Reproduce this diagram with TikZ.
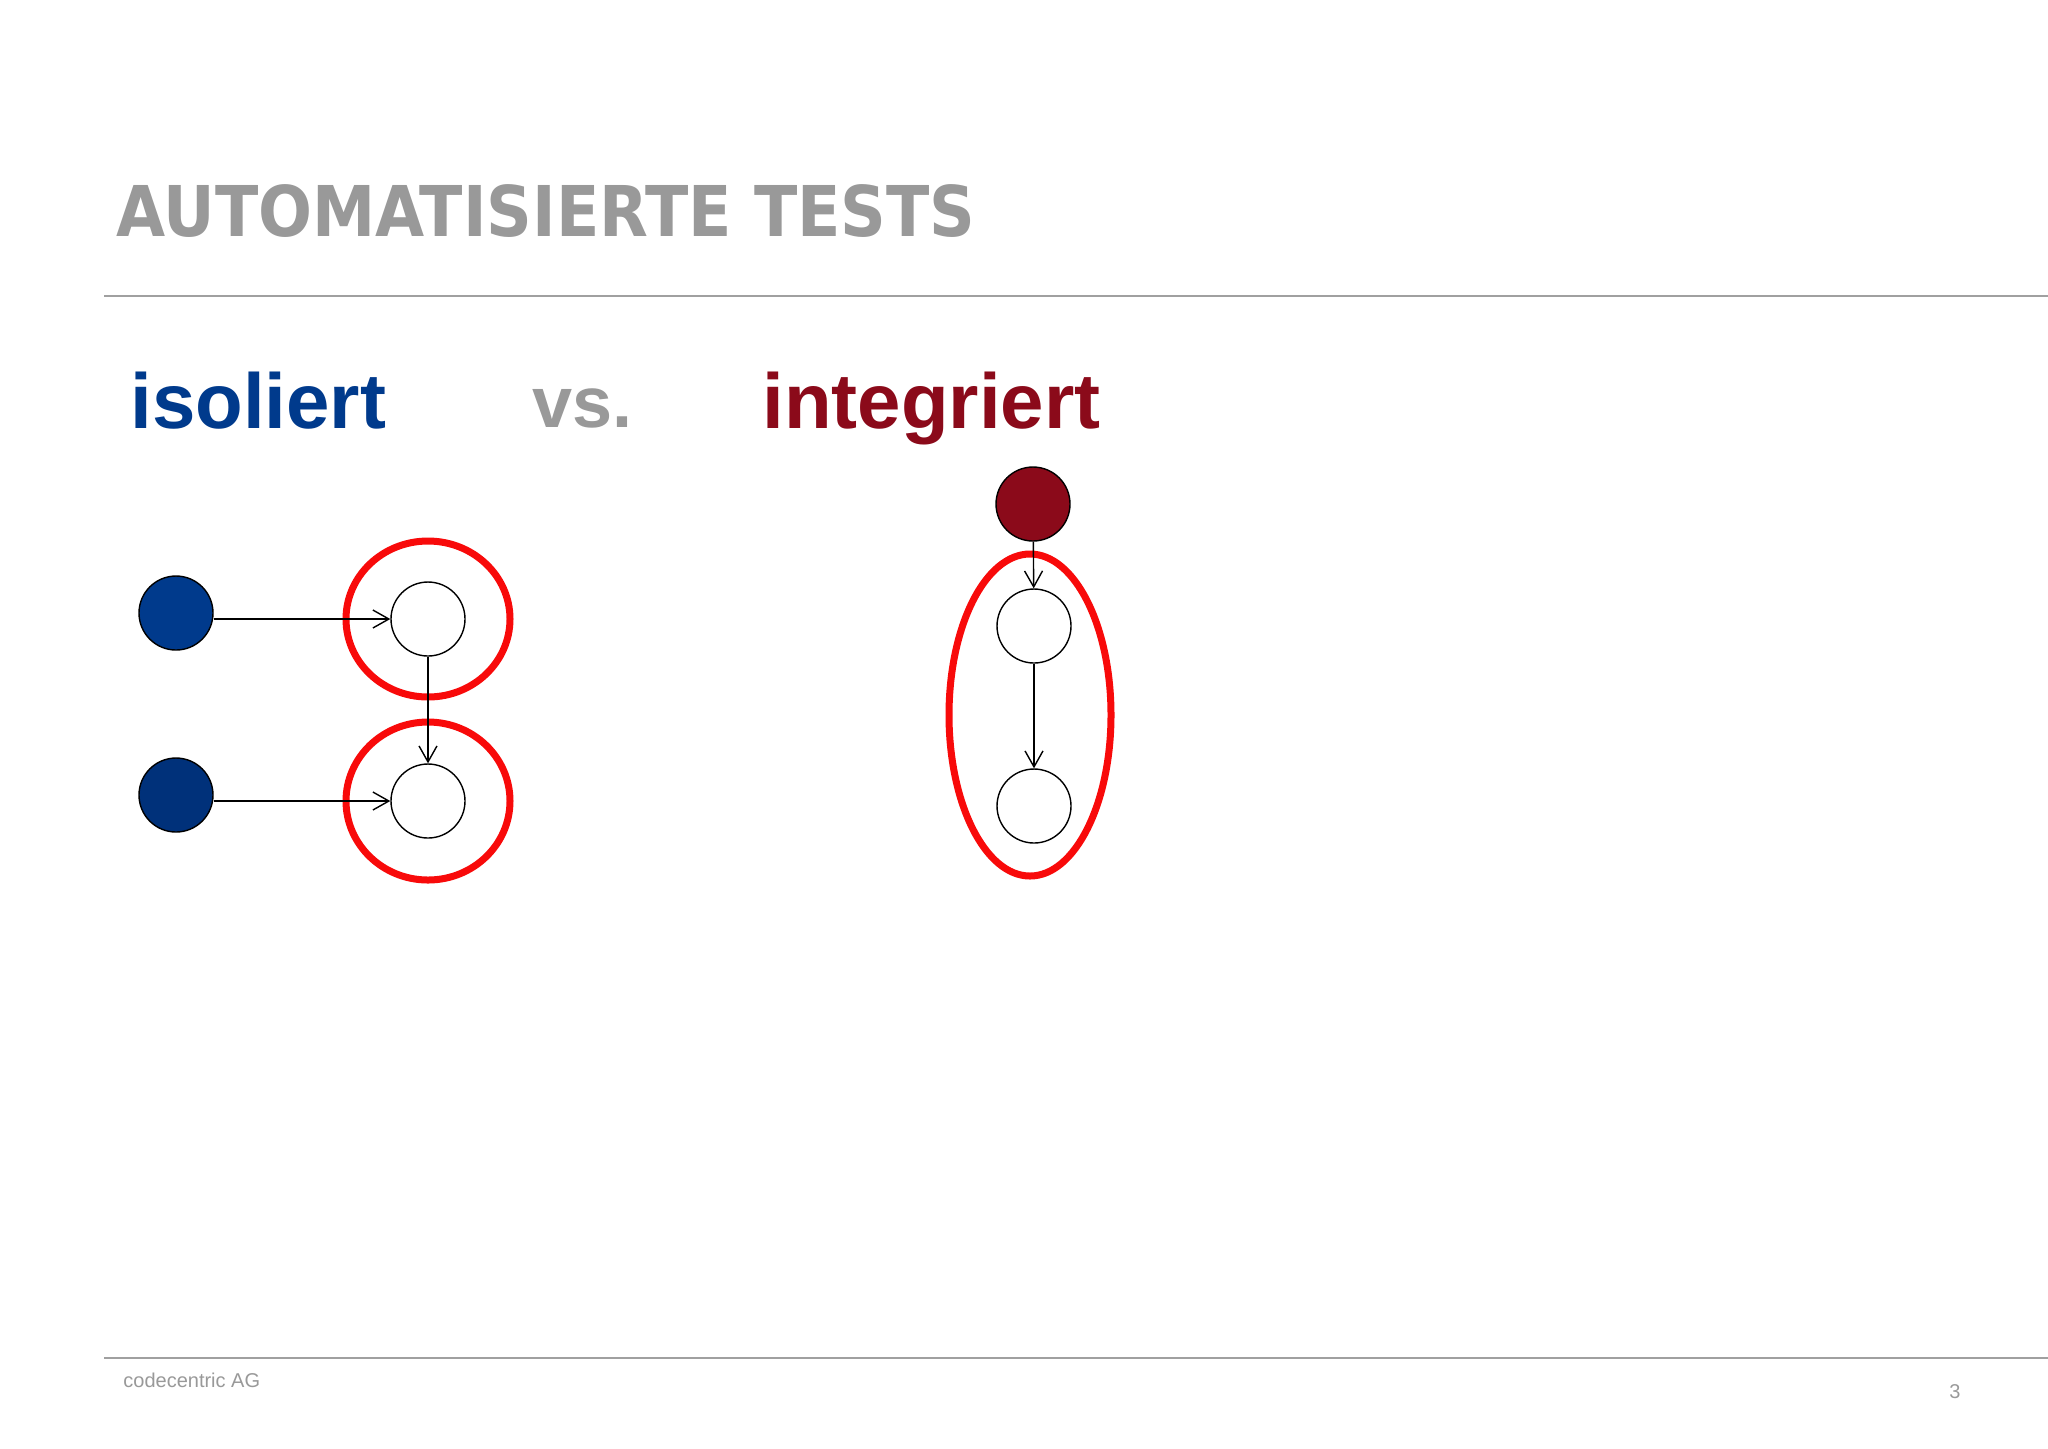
\documentclass[tikz,border=0pt]{standalone}
\usepackage{fontspec}
\setmainfont{Liberation Sans}
\newfontfamily\headfont{DejaVu Sans}
\usepackage{xcolor}
\usepackage{tikz}
\usetikzlibrary{arrows.meta}
\definecolor{headgray}{HTML}{999999}
\definecolor{rulegray}{HTML}{A0A0A0}
\definecolor{isoblue}{HTML}{003A8C}
\definecolor{isobluedark}{HTML}{00317A}
\definecolor{intred}{HTML}{8B0A1A}
\definecolor{ringred}{HTML}{F80A0A}

\begin{document}
\begin{tikzpicture}[x=0.5pt,y=-0.5pt,
				unit/.style={circle,draw=black,line width=0.7pt,minimum size=37pt,inner sep=0pt,fill=white},
				arr/.style={-{Straight Barb[length=8pt,width=9pt]},line width=0.7pt},
				ring/.style={draw=ringred,line width=3.5pt},
				word/.style={anchor=base west,inner sep=0pt,font=\fontsize{39}{41}\selectfont\bfseries}]
				\useasboundingbox[fill=white] (0,0) rectangle (2048,1448);
				\node[anchor=base west,inner sep=0pt,text=headgray] (title) at (116,236) {\scalebox{0.907}[1]{\headfont\fontsize{35}{38}\selectfont\bfseries AUTOMATISIERTE TESTS}};
				\draw[rulegray,line width=1pt] (104,296) -- (2048,296);
				\draw[rulegray,line width=1pt] (104,1358) -- (2048,1358);
				\node[word,text=isoblue] (iso) at (130,428) {isoliert};
				\node[word,text=headgray,font=\fontsize{36}{38}\selectfont\bfseries] (vs) at (532,427) {vs.};
				\node[word,text=intred] (int) at (762,428) {integriert};
				\node[anchor=base west,inner sep=0pt,text=headgray,font=\fontsize{10}{12}\selectfont] (firm) at (123,1387) {codecentric AG};
				\node[anchor=base,inner sep=0pt,text=headgray,font=\fontsize{10}{12}\selectfont] (page) at (1955,1398) {3};
				\node[unit,fill=isoblue] (b1) at (176,613) {};
				\node[unit,fill=isobluedark] (b2) at (176,795) {};
				\node[unit] (w1) at (428,619) {};
				\node[unit] (w2) at (428,801) {};
				\node[unit,fill=intred] (r0) at (1033,504) {};
				\node[unit] (w3) at (1034,626) {};
				\node[unit] (w4) at (1034,806) {};
				\draw[ring] (w1) ellipse [x radius=82,y radius=78];
				\draw[ring] (w2) ellipse [x radius=82,y radius=79];
				\draw[ring] (1030,715) ellipse [x radius=81,y radius=161];
				\draw[arr] (b1.east |- w1) -- (w1);
				\draw[arr] (b2.east |- w2) -- (w2);
				\draw[arr] (w1) -- (w2);
				\draw[arr] (r0) -- (w3);
				\draw[arr] (w3) -- (w4);
				\end{tikzpicture}
\end{document}
